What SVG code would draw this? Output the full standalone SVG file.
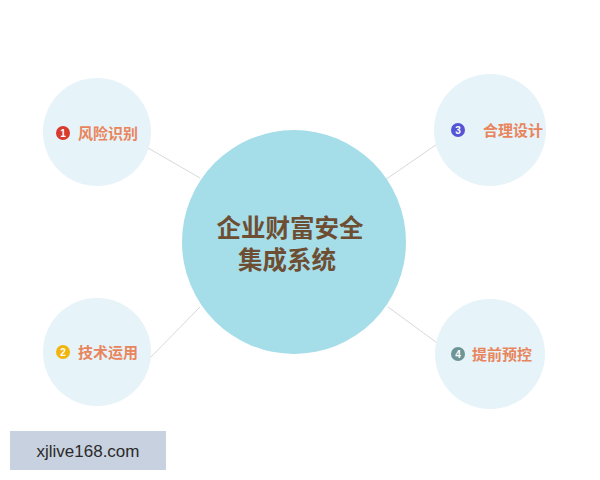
<svg xmlns="http://www.w3.org/2000/svg" width="600" height="480" viewBox="0 0 600 480">
<style>
.bg{fill:#ffffff}
.sub{fill:#e6f3f8}
.main{fill:#a5dde9}
.lbl{font-family:"Noto Sans CJK SC","Noto Sans",sans-serif;font-size:15px;font-weight:bold;fill:#e8855c}
.num{font-family:"Liberation Sans",sans-serif;font-size:10px;font-weight:bold;fill:#ffffff;text-anchor:middle}
.title{font-family:"Noto Sans CJK SC",sans-serif;font-size:24.5px;font-weight:bold;fill:#6e4e32}
.conn{stroke:#d6d9db;stroke-width:1;fill:none}
</style>
<rect class="bg" x="0" y="0" width="600" height="480"/>
<g id="connectors">
<line class="conn" x1="148" y1="148" x2="200" y2="178"/>
<line class="conn" x1="385" y1="180" x2="440" y2="142"/>
<line class="conn" x1="148" y1="360" x2="200" y2="307"/>
<line class="conn" x1="388" y1="307" x2="440" y2="345"/>
</g>
<g id="center">
<circle class="main" cx="294" cy="242" r="112"/>
<text class="title" x="290" y="237" text-anchor="middle">企业财富安全</text>
<text class="title" x="287" y="269" text-anchor="middle">集成系统</text>
</g>
<g id="node1">
<circle class="sub" cx="97" cy="132" r="54"/>
<circle cx="63" cy="133" r="7" fill="#d83a2e"/>
<text class="num" x="63" y="136.5">1</text>
<text class="lbl" x="78" y="138.5">风险识别</text>
</g>
<g id="node2">
<circle class="sub" cx="97" cy="352" r="54"/>
<circle cx="63" cy="352" r="7" fill="#f2b40e"/>
<text class="num" x="63" y="355.5">2</text>
<text class="lbl" x="78" y="357.5">技术运用</text>
</g>
<g id="node3">
<circle class="sub" cx="490" cy="130" r="56"/>
<circle cx="458" cy="130" r="7" fill="#5455d4"/>
<text class="num" x="458" y="133.5">3</text>
<text class="lbl" x="483" y="135.5">合理设计</text>
</g>
<g id="node4">
<circle class="sub" cx="490" cy="354" r="55"/>
<circle cx="458" cy="354" r="7" fill="#6e9596"/>
<text class="num" x="458" y="357.5">4</text>
<text class="lbl" x="472" y="359.5">提前预控</text>
</g>
<g id="watermark">
<rect x="10" y="431" width="156" height="39" fill="#c8d1df"/>
<text x="88" y="456.5" text-anchor="middle" font-family="Liberation Sans,sans-serif" font-size="17" fill="#2a2a2a">xjlive168.com</text>
</g>
</svg>
